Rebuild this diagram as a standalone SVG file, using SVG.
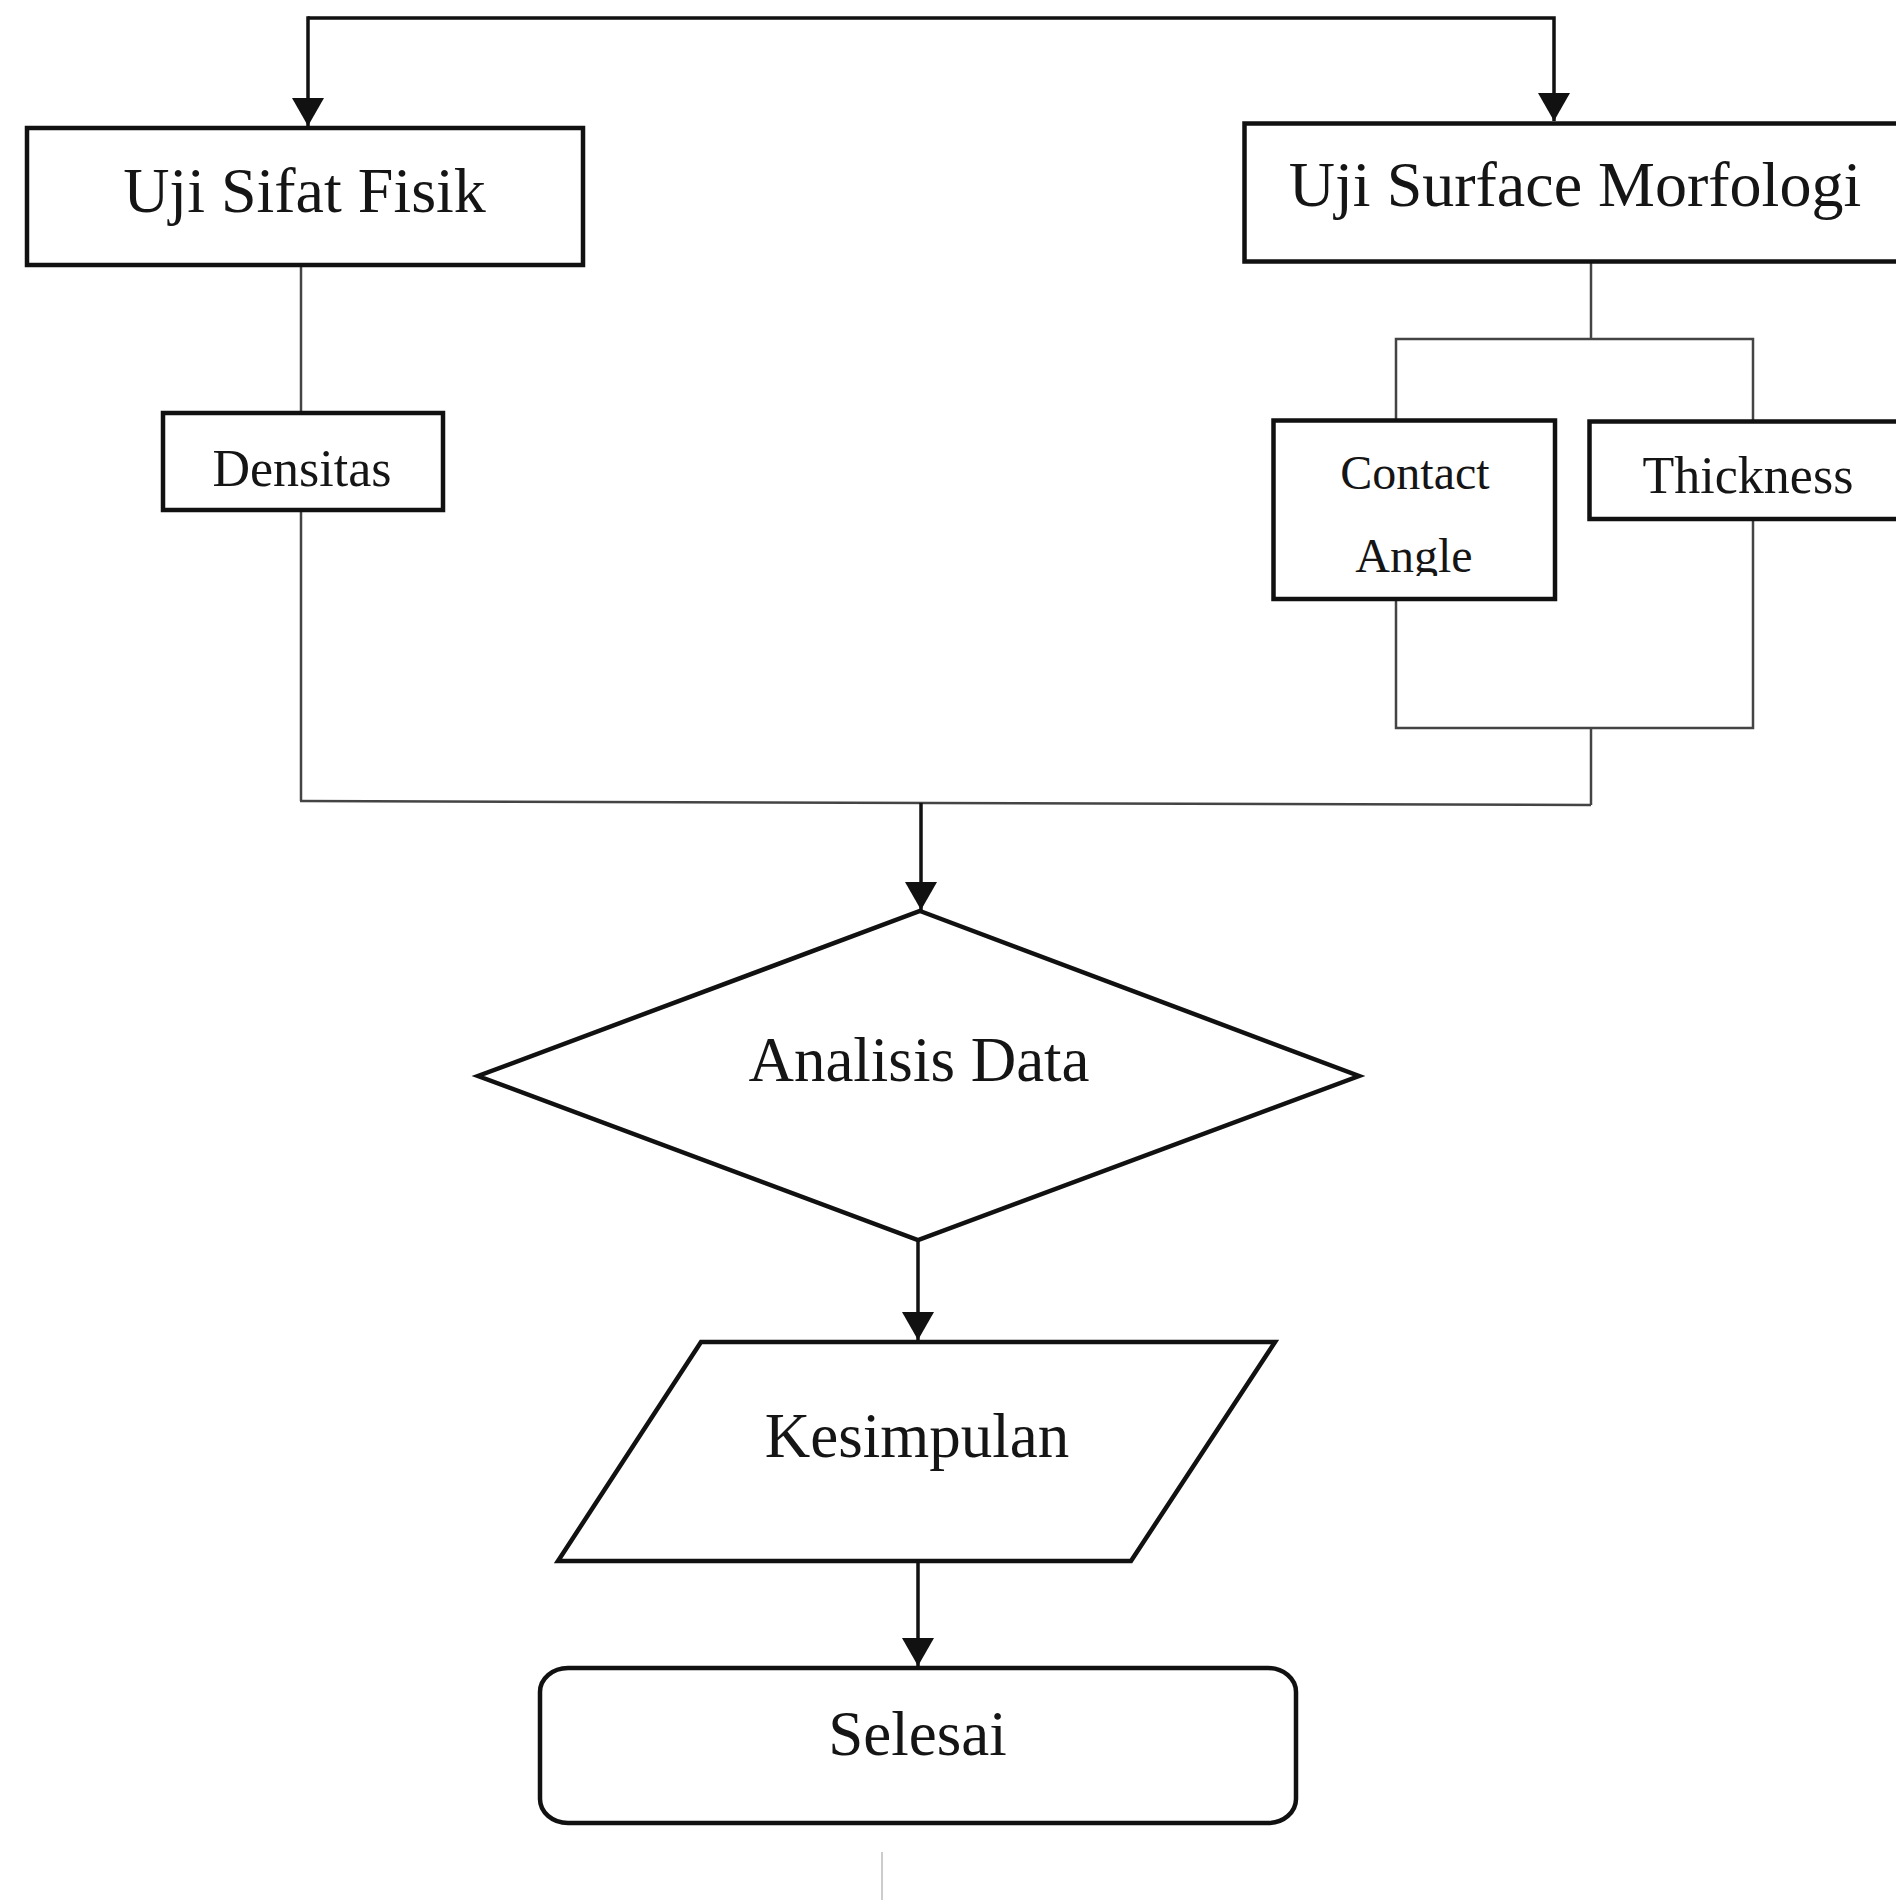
<svg xmlns="http://www.w3.org/2000/svg" width="1896" height="1901" viewBox="0 0 1896 1901">
<style>
  .box { fill: #fff; stroke: #111; stroke-width: 4.5; }
  .shape { fill: #fff; stroke: #111; stroke-width: 4.5; }
  .arrow { fill: none; stroke: #111; stroke-width: 3.5; }
  .thin { fill: none; stroke: #444; stroke-width: 2.5; }
  .lbl { font-family: "Liberation Serif", "Times New Roman", serif; fill: #151515; text-anchor: middle; }
</style>
<defs>
  <marker id="ah" viewBox="0 0 28 32" refX="28" refY="16" markerWidth="28" markerHeight="32" markerUnits="userSpaceOnUse" orient="auto">
    <path d="M0,0 L28,16 L0,32 Z" fill="#111"/>
  </marker>
  <clipPath id="clipAngle">
    <rect x="1276" y="520" width="276" height="56"/>
  </clipPath>
</defs>
<rect width="1896" height="1901" fill="#fff"/>

<g id="connectors">
  <path class="arrow" d="M308,18 L1554,18 L1554,121" marker-end="url(#ah)"/>
  <path class="arrow" d="M308,16.25 L308,126" marker-end="url(#ah)"/>
  <line class="thin" x1="301" y1="266" x2="301" y2="413"/>
  <line class="thin" x1="301" y1="510" x2="301" y2="801"/>
  <line class="thin" x1="300" y1="801" x2="1591" y2="805"/>
  <line class="thin" x1="1591" y1="262" x2="1591" y2="339"/>
  <polyline class="thin" points="1396,421 1396,339 1753,339 1753,422"/>
  <polyline class="thin" points="1396,599 1396,728 1753,728 1753,519"/>
  <line class="thin" x1="1591" y1="728" x2="1591" y2="805"/>
  <line class="arrow" x1="921" y1="803" x2="921" y2="910" marker-end="url(#ah)"/>
  <line class="arrow" x1="918" y1="1240" x2="918" y2="1340" marker-end="url(#ah)"/>
  <line class="arrow" x1="918" y1="1562" x2="918" y2="1666" marker-end="url(#ah)"/>
  <line x1="882" y1="1852" x2="882" y2="1900" stroke="#bbb" stroke-width="1.5"/>
</g>

<g id="uji-sifat-fisik">
  <rect class="box" x="27" y="128" width="556" height="137"/>
  <text class="lbl" x="304.5" y="212" font-size="64">Uji Sifat Fisik</text>
</g>

<g id="uji-surface-morfologi">
  <rect class="box" x="1244.5" y="123.5" width="700" height="138"/>
  <text class="lbl" x="1575" y="206" font-size="64">Uji Surface Morfologi</text>
</g>

<g id="densitas">
  <rect class="box" x="163" y="413" width="280" height="97"/>
  <text class="lbl" x="302" y="486" font-size="52">Densitas</text>
</g>

<g id="contact-angle">
  <rect class="box" x="1273.5" y="420.5" width="281.5" height="178.5"/>
  <text class="lbl" x="1415" y="488.5" font-size="48">Contact</text>
  <text class="lbl" x="1414" y="571.5" font-size="48" clip-path="url(#clipAngle)">Angle</text>
</g>

<g id="thickness">
  <rect class="box" x="1589.5" y="421.5" width="400" height="97.5"/>
  <text class="lbl" x="1748" y="493" font-size="52">Thickness</text>
</g>

<g id="analisis-data">
  <polygon class="shape" points="920,911 1359,1076 918,1240 478,1076"/>
  <text class="lbl" x="919" y="1081" font-size="63">Analisis Data</text>
</g>

<g id="kesimpulan">
  <polygon class="shape" points="701,1342 1275,1342 1131,1561 558,1561"/>
  <text class="lbl" x="917" y="1456.5" font-size="63">Kesimpulan</text>
</g>

<g id="selesai">
  <rect class="shape" x="540" y="1668" width="756" height="155" rx="28" ry="24"/>
  <text class="lbl" x="917.5" y="1755" font-size="63">Selesai</text>
</g>
</svg>
